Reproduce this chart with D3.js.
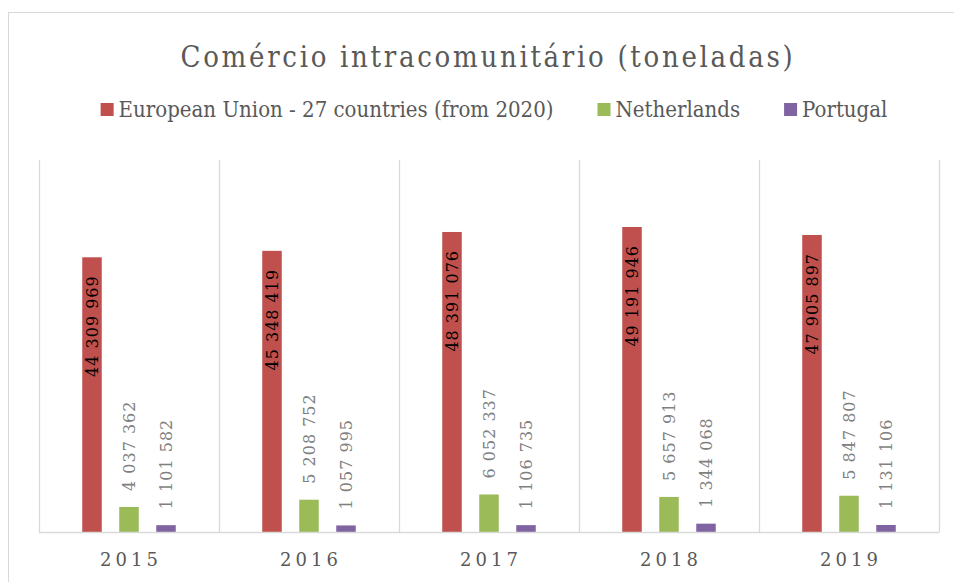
<!DOCTYPE html>
<html>
<head>
<meta charset="utf-8">
<script src="https://cdn.jsdelivr.net/npm/d3@7"></script>
<style>
  body { margin: 0; background: #fff; }
  text { font-family: "DejaVu Serif", serif; }
</style>
</head>
<body>
<div id="chart"></div>
<script>
// Data
var years = ["2015", "2016", "2017", "2018", "2019"];
var seriesNames = ["European Union - 27 countries (from 2020)", "Netherlands", "Portugal"];
var euValues = [44309969, 45348419, 48391076, 49191946, 47905897];
var nlValues = [4037362, 5208752, 6052337, 5657913, 5847807];
var ptValues = [1101582, 1057995, 1106735, 1344068, 1131106];
var colors = ["#c0504d", "#9bbb59", "#8064a2"];

var W = 954, H = 582;
var margin = { top: 160, left: 39, right: 15, bottom: 50 };
var width = 900, height = 372;

var svg = d3.select("#chart").append("svg")
    .attr("width", W)
    .attr("height", H);

// chart frame
svg.append("rect")
    .attr("x", 8.5).attr("y", 12.5)
    .attr("width", 1000).attr("height", 700)
    .attr("fill", "#fff")
    .attr("stroke", "#d9d9d9");

var g = svg.append("g")
    .attr("transform", "translate(" + margin.left + "," + margin.top + ")");

// scales
var x = d3.scaleBand().domain(years).range([0, width]);
var xs = d3.scaleBand().domain(d3.range(3)).range([0, x.bandwidth()])
    .paddingInner(0.473).paddingOuter(1.169);
var y = d3.scaleLinear().domain([0, 60000000]).range([height, 0]);

var fmt = d3.formatLocale({ decimal: ",", thousands: " ", grouping: [3], currency: ["", ""] }).format(",d");

// vertical gridlines between categories
var bounds = years.map(function (d) { return x(d); }).concat([width]);
g.selectAll(".grid")
    .data(bounds)
    .enter().append("line")
    .attr("x1", function (d) { return d + 0.5; })
    .attr("x2", function (d) { return d + 0.5; })
    .attr("y1", 0)
    .attr("y2", height)
    .attr("stroke", "#d9d9d9")
    .attr("stroke-width", 1.3);

var table = years.map(function (yr, i) {
    return { year: yr, values: [euValues[i], nlValues[i], ptValues[i]] };
});

var groups = g.selectAll(".year")
    .data(table)
    .enter().append("g")
    .attr("transform", function (d) { return "translate(" + x(d.year) + ",0)"; });

var cells = groups.selectAll(".bar")
    .data(function (d) { return d.values.map(function (v, k) { return { k: k, v: v }; }); })
    .enter();

cells.append("rect")
    .attr("x", function (d) { return xs(d.k); })
    .attr("width", xs.bandwidth())
    .attr("y", function (d) { return y(d.v); })
    .attr("height", function (d) { return height - y(d.v); })
    .attr("fill", function (d) { return colors[d.k]; });

// data labels, rotated
cells.append("text")
    .attr("transform", function (d) {
        var cx = xs(d.k) + xs.bandwidth() / 2;
        var ty = d.k === 0 ? y(d.v) + 18 : y(d.v) - 16;
        return "translate(" + cx + "," + ty + ") rotate(-90)";
    })
    .attr("dy", "0.36em")
    .attr("text-anchor", function (d) { return d.k === 0 ? "end" : "start"; })
    .style("font-size", "16px")
    .style("letter-spacing", "1px")
    .attr("fill", function (d) { return d.k === 0 ? "#000" : "#7f7f7f"; })
    .text(function (d) { return fmt(d.v); });

// x axis line
g.append("line")
    .attr("x1", 0).attr("x2", width)
    .attr("y1", height + 0.5).attr("y2", height + 0.5)
    .attr("stroke", "#d9d9d9")
    .attr("stroke-width", 1.3);

// x axis labels
g.selectAll(".xlab")
    .data(years)
    .enter().append("text")
    .attr("x", function (d) { return x(d) + x.bandwidth() / 2 + 2; })
    .attr("y", height + 34)
    .attr("text-anchor", "middle")
    .style("font-size", "18px")
    .style("letter-spacing", "4px")
    .attr("fill", "#595959")
    .text(function (d) { return d; });

// title
svg.append("text")
    .attr("x", 488)
    .attr("y", 67)
    .attr("text-anchor", "middle")
    .style("font-size", "29px")
    .style("font-stretch", "condensed")
    .style("letter-spacing", "2.7px")
    .attr("fill", "#595959")
    .text("Comércio intracomunitário (toneladas)");

// legend
var legend = svg.append("g");
var lx = 0, gap = 44;
seriesNames.forEach(function (name, i) {
    var item = legend.append("g").attr("transform", "translate(" + lx + ",0)");
    item.append("rect")
        .attr("x", 0).attr("y", -14)
        .attr("width", 13).attr("height", 13)
        .attr("fill", colors[i]);
    var t = item.append("text")
        .attr("x", 18).attr("y", 0)
        .style("font-size", "22px")
        .style("font-stretch", "condensed")
        .attr("fill", "#595959")
        .text(name);
    lx += 18 + t.node().getComputedTextLength() + gap;
});
lx -= gap;
legend.attr("transform", "translate(" + (494 - lx / 2) + ",117)");
</script>
</body>
</html>
